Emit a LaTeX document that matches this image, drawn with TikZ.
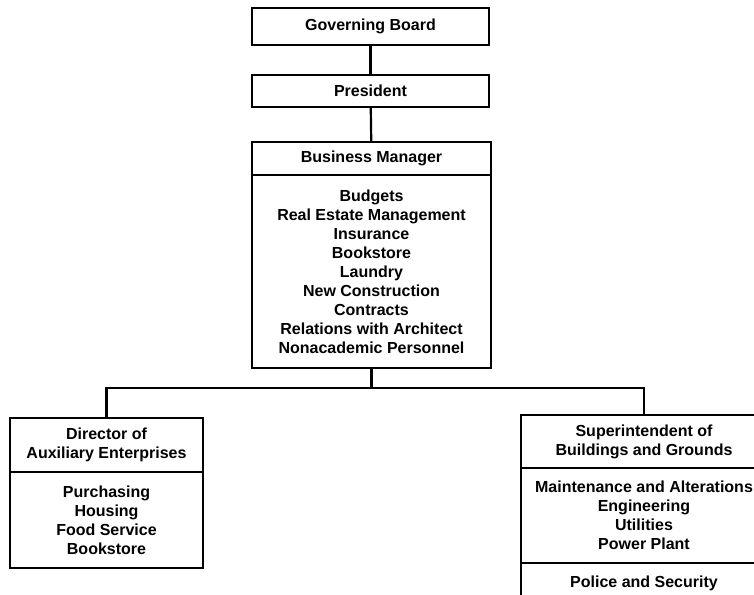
\documentclass[tikz,border=0pt]{standalone}
\usepackage{fontspec}
\setmainfont{Liberation Sans}
\begin{document}
\begin{tikzpicture}[x=1pt,y=-1pt,
  every node/.style={font=\fontsize{16}{19}\selectfont\bfseries},
  box/.style={draw, line width=2.2pt, rectangle, inner sep=0pt, align=center},
  link/.style={line width=2.2pt}]
\clip (0,0) rectangle (754,594);
\fill[white] (0,0) rectangle (754,594);

% top of the chain
\node[box, minimum width=237pt, minimum height=37pt] (gov) at (370.5,26.5) {Governing Board};
\node[box, minimum width=237pt, minimum height=32pt] (pres) at (370.5,91) {President};

% business manager: title and duties
\node[box, minimum width=239pt, minimum height=33pt] (bmh) at (371.5,158.5) {Business Manager};
\node[box, minimum width=239pt, minimum height=193pt] (bmb) at (371.5,271.5)
  {Budgets\\Real Estate Management\\Insurance\\Bookstore\\Laundry\\New Construction\\Contracts\\Relations with Architect\\Nonacademic Personnel};

% auxiliary enterprises
\node[box, minimum width=193pt, minimum height=54pt] (auxh) at (106.5,445) {Director of\\Auxiliary Enterprises};
\node[box, minimum width=193pt, minimum height=96pt] (auxb) at (106.5,520) {Purchasing\\Housing\\Food Service\\Bookstore};

% buildings and grounds
\node[box, minimum width=246pt, minimum height=53pt] (bgh) at (644,441.5) {Superintendent of\\Buildings and Grounds};
\node[box, minimum width=246pt, minimum height=95pt] (bgb) at (644,515.5) {Maintenance and Alterations\\Engineering\\Utilities\\Power Plant};
\node[box, minimum width=246pt, minimum height=40pt] (bgp) at (644,583) {Police and Security};

% connectors
\coordinate (bus) at (0,388);
\draw[link] (gov) -- (pres);
\draw[link] (pres) -- (bmh);
\draw[link] (bmb.south) -- (bmb.south |- bus);
\draw[link] (auxh.north) -- (auxh.north |- bus) -- (bgh.north |- bus) -- (bgh.north);
\end{tikzpicture}
\end{document}
